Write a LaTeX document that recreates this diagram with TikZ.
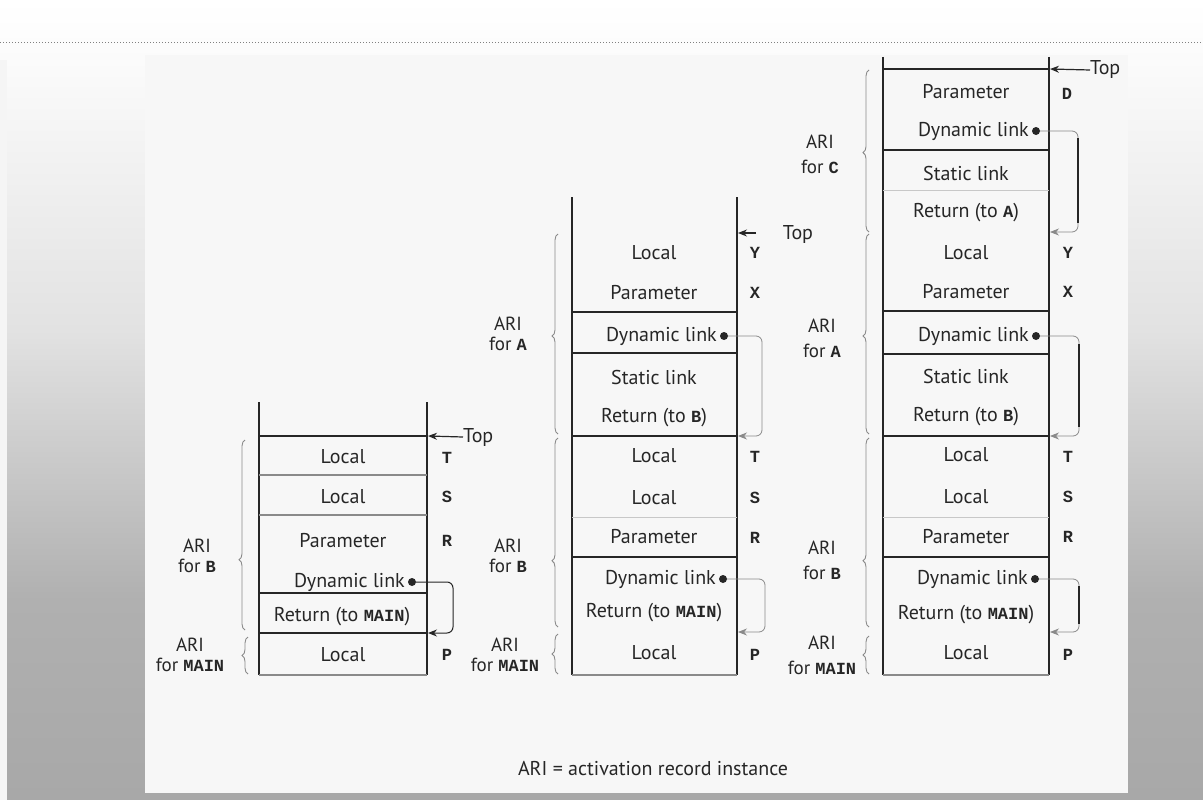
\documentclass[tikz,border=0pt]{standalone}
\usepackage{fontspec}
\setsansfont{PT Sans}
\setmonofont{Liberation Mono}
\usetikzlibrary{arrows.meta,decorations.pathreplacing}
\definecolor{ink}{HTML}{262626}
\definecolor{faint}{HTML}{C8C8C8}
\definecolor{midgray}{HTML}{8A8A8A}
\definecolor{panel}{HTML}{F7F7F7}
\definecolor{bgA}{HTML}{FBFBFB}
\definecolor{bgB}{HTML}{E2E2E2}
\definecolor{bgC}{HTML}{B0B0B0}
\definecolor{bgD}{HTML}{A8A8A8}
\newcommand\codetxt[1]{{\ttfamily\bfseries\fontsize{17}{17}\selectfont #1}}
\begin{document}
\begin{tikzpicture}[x=1pt,y=-1pt,
  cell/.style={font=\sffamily\fontsize{20}{20}\selectfont, text=ink, inner sep=0pt},
  reg/.style={font=\ttfamily\bfseries\fontsize{17}{17}\selectfont, text=ink, inner sep=0pt},
  ari/.style={font=\sffamily\fontsize{19}{20}\selectfont, align=center, text=ink, inner sep=0pt},
  aritall/.style={ari, font=\sffamily\fontsize{19}{25}\selectfont},
  wall/.style={line width=1.6pt, draw=ink},
  sepdark/.style={line width=2pt, draw=ink},
  sepmid/.style={line width=1.2pt, draw=midgray},
  seplight/.style={line width=1pt, draw=faint},
  toparrow/.style={-{Stealth[length=9pt,width=7pt]}, line width=1.2pt, draw=ink},
  dynarrow/.style={-{Stealth[length=9pt,width=7pt]}, line width=1pt, draw=ink, rounded corners=6pt},
  dynfaint/.style={-{Stealth[length=9pt,width=7pt]}, line width=0.8pt, draw=midgray, rounded corners=6pt},
  dotnode/.style={circle, fill=ink, inner sep=0pt, minimum size=8pt},
  bracestyle/.style={decorate, decoration={brace, amplitude=6pt, aspect=#1}, line width=0.9pt, draw=midgray},
]
\useasboundingbox (0,0) rectangle (1203,800);
% ---------- background ----------
\fill[white] (0,0) rectangle (1203,800);
\fill[top color=white, bottom color=bgA] (0,0) rectangle (1203,60);
\fill[top color=bgA, bottom color=bgB] (0,60) rectangle (1203,330);
\fill[top color=bgB, bottom color=bgC] (0,330) rectangle (1203,600);
\fill[top color=bgC, bottom color=bgD] (0,600) rectangle (1203,800);
\fill[white!96!black] (0,60) rectangle (7,800);
\fill[panel] (145,55) rectangle (1128,793);
\draw[dotted, line width=1pt, draw=gray] (0,43) -- (1203,43);

% ================= STACK 1 =================
\draw[wall] (259,402) -- (259,675);
\draw[wall] (427,402) -- (427,675);
\draw[sepdark] (259,436) -- (427,436);
\draw[sepmid] (259,475) -- (427,475);
\draw[sepmid] (259,515) -- (427,515);
\draw[sepdark] (259,593) -- (427,593);
\draw[sepdark] (259,633) -- (427,633);
\draw[sepmid] (259,675) -- (427,675);
\node[cell] (a1) at (343,457) {Local};
\node[cell] (a2) at (343,497) {Local};
\node[cell] (a3) at (343,541) {Parameter};
\node[dotnode] (a4d) at (412,582) {};
\node[cell, anchor=east] (a4) at (405,582) {Dynamic link};
\node[cell] (a5) at (342,617) {Return (to \codetxt{MAIN})};
\node[cell] (a6) at (343,655) {Local};
\node[reg] (aT) at (447,458) {T};
\node[reg] (aS) at (447,497) {S};
\node[reg] (aR) at (447,541) {R};
\node[reg] (aP) at (447,655) {P};
\node[cell, anchor=west] (atop) at (463,437) {Top};
\coordinate (atopt) at (428,436);
\draw[toparrow] (atop.west) -- (atopt);
\coordinate (adynt) at (428,633);
\draw[dynarrow] (a4d.east) -| (453,633) -- (adynt);
\node[ari] (aariB) at (197,556) {ARI\\for \codetxt{B}};
\node[ari] (aariM) at (190,655) {ARI\\for \codetxt{MAIN}};
\draw[bracestyle=0.37] (245,630) -- (245,440);
\draw[bracestyle=0.5] (248,674) -- (248,637);

% ================= STACK 2 =================
\draw[wall] (572,197) -- (572,675);
\draw[wall] (737,197) -- (737,675);
\draw[sepdark] (572,312) -- (737,312);
\draw[sepdark] (572,353) -- (737,353);
\draw[sepdark] (572,436) -- (737,436);
\draw[seplight] (572,517) -- (737,517);
\draw[sepdark] (572,557) -- (737,557);
\draw[sepmid] (572,675) -- (737,675);
\node[cell] (b1) at (654,253) {Local};
\node[cell] (b2) at (654,293) {Parameter};
\node[dotnode] (b3d) at (724,336) {};
\node[cell, anchor=east] (b3) at (717,336) {Dynamic link};
\node[cell] (b4) at (654,377) {Static link};
\node[cell] (b5) at (654,418) {Return (to \codetxt{B})};
\node[cell] (b6) at (654,456) {Local};
\node[cell] (b7) at (654,498) {Local};
\node[cell] (b8) at (654,537) {Parameter};
\node[dotnode] (b9d) at (723,579) {};
\node[cell, anchor=east] (b9) at (716,579) {Dynamic link};
\node[cell] (b10) at (654,613) {Return (to \codetxt{MAIN})};
\node[cell] (b11) at (654,653) {Local};
\node[reg] (bY) at (755,253) {Y};
\node[reg] (bX) at (755,293) {X};
\node[reg] (bT) at (755,457) {T};
\node[reg] (bS) at (755,498) {S};
\node[reg] (bR) at (755,538) {R};
\node[reg] (bP) at (755,655) {P};
\node[cell] (btop) at (798,234) {Top};
\coordinate (btops) at (756,233);
\coordinate (btopt) at (738,233);
\draw[toparrow] (btops) -- (btopt);
\coordinate (bdynAt) at (738,436);
\draw[dynfaint] (b3d.east) -| (762,436) -- (bdynAt);
\coordinate (bdynBt) at (738,632);
\draw[dynfaint] (b9d.east) -| (765,632) -- (bdynBt);
\node[ari] (bariA) at (508,334) {ARI\\for \codetxt{A}};
\node[ari] (bariB) at (508,556) {ARI\\for \codetxt{B}};
\node[ari] (bariM) at (505,655) {ARI\\for \codetxt{MAIN}};
\draw[bracestyle=0.49] (558,434) -- (558,234);
\draw[bracestyle=0.35] (558,627) -- (558,438);
\draw[bracestyle=0.5] (558,674) -- (558,634);

% ================= STACK 3 =================
\draw[wall] (883,57) -- (883,675);
\draw[wall] (1049,57) -- (1049,675);
\draw[sepdark] (883,69) -- (1049,69);
\draw[sepdark] (883,150) -- (1049,150);
\draw[seplight] (883,190) -- (1049,190);
\draw[sepdark] (883,311) -- (1049,311);
\draw[sepdark] (883,354) -- (1049,354);
\draw[sepdark] (883,436) -- (1049,436);
\draw[seplight] (883,517) -- (1049,517);
\draw[sepdark] (883,557) -- (1049,557);
\draw[sepmid] (883,675) -- (1049,675);
\node[cell] (c1) at (966,92) {Parameter};
\node[dotnode] (c2d) at (1036,131) {};
\node[cell, anchor=east] (c2) at (1029,131) {Dynamic link};
\node[cell] (c3) at (966,173) {Static link};
\node[cell] (c4) at (966,213) {Return (to \codetxt{A})};
\node[cell] (c5) at (966,253) {Local};
\node[cell] (c6) at (966,292) {Parameter};
\node[dotnode] (c7d) at (1036,336) {};
\node[cell, anchor=east] (c7) at (1029,336) {Dynamic link};
\node[cell] (c8) at (966,376) {Static link};
\node[cell] (c9) at (966,417) {Return (to \codetxt{B})};
\node[cell] (c10) at (966,455) {Local};
\node[cell] (c11) at (966,497) {Local};
\node[cell] (c12) at (966,537) {Parameter};
\node[dotnode] (c13d) at (1035,579) {};
\node[cell, anchor=east] (c13) at (1028,579) {Dynamic link};
\node[cell] (c14) at (966,615) {Return (to \codetxt{MAIN})};
\node[cell] (c15) at (966,653) {Local};
\node[reg] (cD) at (1067,94) {D};
\node[reg] (cY) at (1068,253) {Y};
\node[reg] (cX) at (1068,292) {X};
\node[reg] (cT) at (1068,457) {T};
\node[reg] (cS) at (1068,497) {S};
\node[reg] (cR) at (1068,537) {R};
\node[reg] (cP) at (1068,655) {P};
\node[cell, anchor=west] (ctop) at (1090,70) {Top};
\coordinate (ctopt) at (1050,69);
\draw[toparrow] (ctop.west) -- (ctopt);
\coordinate (cdynCt) at (1050,232);
\draw[dynfaint] (c2d.east) -| (1078,232) -- (cdynCt);
\draw[line width=1.6pt, draw=ink] (1078,138) -- (1078,223);
\coordinate (cdynAt) at (1050,436);
\draw[dynfaint] (c7d.east) -| (1079,436) -- (cdynAt);
\draw[line width=1.6pt, draw=ink] (1079,344) -- (1079,427);
\coordinate (cdynBt) at (1050,632);
\draw[dynfaint] (c13d.east) -| (1079,632) -- (cdynBt);
\draw[line width=1.6pt, draw=ink] (1079,586) -- (1079,624);
\node[aritall] (cariC) at (820,154) {ARI\\for \codetxt{C}};
\node[aritall] (cariA) at (822,338) {ARI\\for \codetxt{A}};
\node[aritall] (cariB) at (822,560) {ARI\\for \codetxt{B}};
\node[aritall] (cariM) at (822,655) {ARI\\for \codetxt{MAIN}};
\draw[bracestyle=0.49] (869,232) -- (869,70);
\draw[bracestyle=0.49] (869,434) -- (869,234);
\draw[bracestyle=0.35] (869,627) -- (869,438);
\draw[bracestyle=0.5] (869,674) -- (869,636);

% caption
\node[cell, font=\sffamily\fontsize{20}{20}\selectfont] (caption) at (653,769) {ARI = activation record instance};
\end{tikzpicture}
\end{document}
